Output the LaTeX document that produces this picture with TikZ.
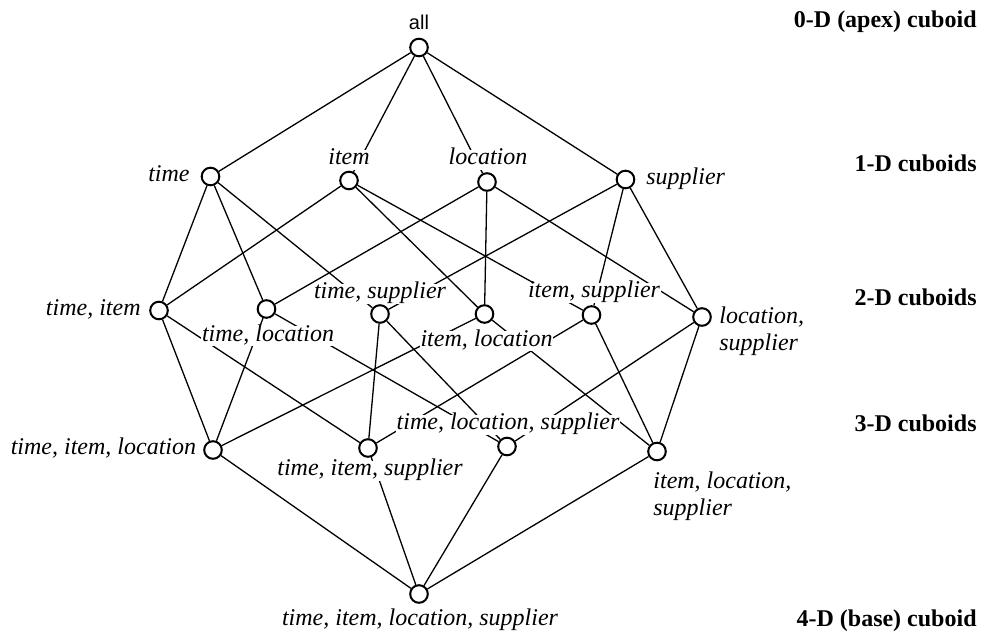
\documentclass[tikz,border=0pt]{standalone}
\usepackage{fontspec}
\setmainfont{Liberation Serif}
\setsansfont{Liberation Sans}
\pgfdeclarelayer{edges}
\pgfdeclarelayer{labs}
\pgfsetlayers{edges,labs,main}
\begin{document}
\begin{tikzpicture}[x=0.5pt,y=-0.5pt,
  cub/.style={circle,draw,line width=1pt,fill=white,minimum size=8.8pt,inner sep=0pt},
  lab/.style={font=\fontsize{12}{13.5}\selectfont\itshape,inner sep=0.5pt,fill=white,text height=0.68em,text depth=0.22em},
  lev/.style={font=\fontsize{12}{13.5}\selectfont\bfseries,anchor=east,inner sep=0pt,text height=0.68em,text depth=0.22em},
  edge/.style={line width=0.65pt}]
\useasboundingbox (0,0) rectangle (986,635);
% cuboid nodes
\node[cub] (A)   at (419,47.5) {};
\node[cub] (T)   at (210.5,176.5) {};
\node[cub] (I)   at (349,180.5) {};
\node[cub] (L)   at (487,182) {};
\node[cub] (S)   at (625.5,179.5) {};
\node[cub] (TI)  at (159,310.5) {};
\node[cub] (TL)  at (266.5,309) {};
\node[cub] (TS)  at (380,314) {};
\node[cub] (IL)  at (484.5,314) {};
\node[cub] (IS)  at (591.5,315) {};
\node[cub] (LS)  at (702,317) {};
\node[cub] (TIL) at (213,450) {};
\node[cub] (TIS) at (368,448) {};
\node[cub] (TLS) at (507,446.5) {};
\node[cub] (ILS) at (657,451.5) {};
\node[cub] (B)   at (419,594) {};
% edges
\begin{pgfonlayer}{edges}
\foreach \u/\v in {A/T,A/I,A/L,A/S,
  T/TI,T/TL,T/TS,I/TI,I/IL,I/IS,L/TL,L/IL,L/LS,S/TS,S/IS,S/LS,
  TI/TIL,TI/TIS,TL/TIL,TL/TLS,TS/TIS,TS/TLS,IL/TIL,IL/ILS,IS/TIS,IS/ILS,LS/TLS,LS/ILS,
  TIL/B,TIS/B,TLS/B,ILS/B}
  \draw[edge] (\u) -- (\v);
\end{pgfonlayer}
% labels
\begin{pgfonlayer}{labs}
\node[font=\fontsize{10}{12}\selectfont\sffamily,inner sep=0pt] (lA) at (419,22.5) {all};
\node[lab,anchor=east] (lT) at (191,176.5) {time};
\node[lab] (lI) at (349,160) {item};
\node[lab] (lL) at (488,160) {location};
\node[lab,anchor=west] (lS) at (645,180) {supplier};
\node[lab,anchor=east] (lTI) at (142,310.5) {time, item};
\node[lab] (lTL) at (268,336.5) {time, location};
\node[lab] (lTS) at (380,294) {time, supplier};
\node[lab] (lIL) at (486.5,341.5) {item, location};
\node[lab] (lIS) at (594,293) {item, supplier};
\node[lab,anchor=north west,align=left,text height=,text depth=] (lLS) at (718,305) {location,\\supplier};
\node[lab,anchor=east] (lTIL) at (197.5,450) {time, item, location};
\node[lab] (lTIS) at (370,471) {time, item, supplier};
\node[lab] (lTLS) at (508,425) {time, location, supplier};
\node[lab,anchor=north west,align=left,text height=,text depth=] (lILS) at (652,470) {item, location,\\supplier};
\node[lab] (lB) at (420,621) {time, item, location, supplier};
\end{pgfonlayer}
% level labels
\node[lev] (d0) at (977,23) {0-D (apex) cuboid};
\node[lev] (d1) at (977,167) {1-D cuboids};
\node[lev] (d2) at (977,301) {2-D cuboids};
\node[lev] (d3) at (977,427) {3-D cuboids};
\node[lev] (d4) at (977,622) {4-D (base) cuboid};
\end{tikzpicture}
\end{document}
